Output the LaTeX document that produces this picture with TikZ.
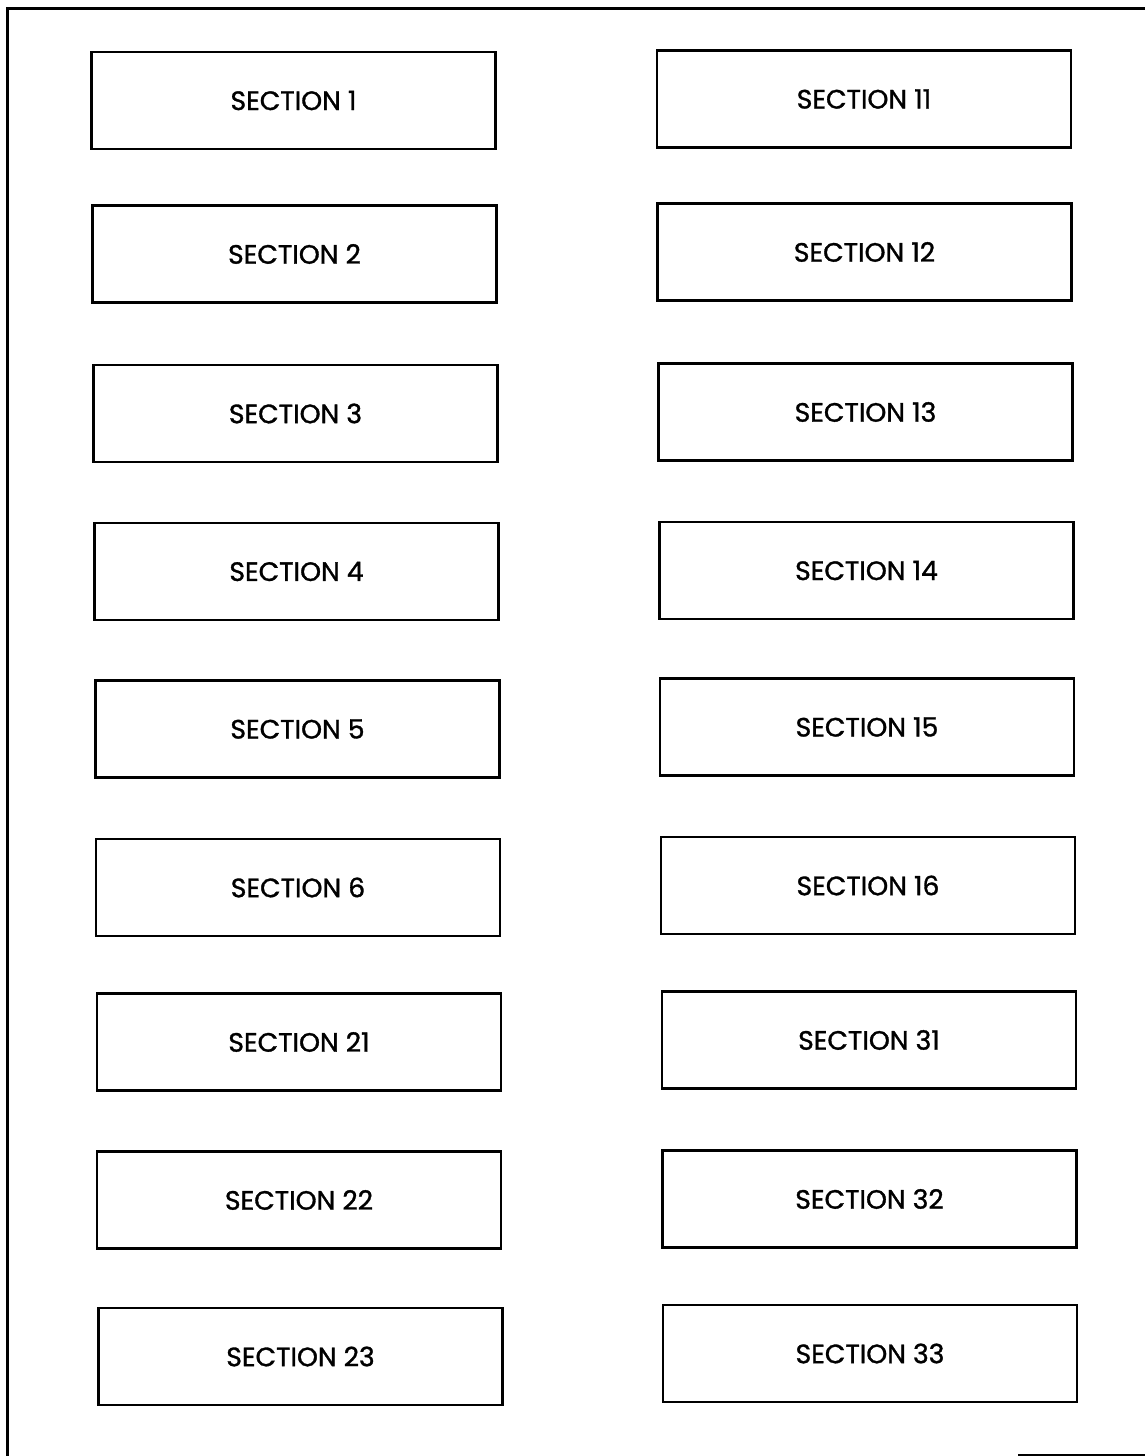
\documentclass[tikz,border=0pt]{standalone}
\usepackage{fontspec}
\setmainfont{Poppins}
\newfontfamily\sectionfont{Poppins}[RawFeature={embolden=1.2}]

\tikzset{
  sectionbox/.style={draw, line width=1.4pt, minimum width=202pt, minimum height=48.5pt,
    inner sep=0pt, font=\sectionfont\fontsize{13.3}{15}\selectfont},
}

\begin{document}
\begin{tikzpicture}[x=0.5pt,y=-0.5pt]
    \useasboundingbox (0,0) rectangle (1145,1456);
    % outer frame, cut at the right and bottom edge
    \draw[line width=1.4pt] (7.5,1460) -- (7.5,8.5) -- (1150,8.5);
    \draw[line width=1.4pt] (1018,1455) -- (1150,1455);
    % left column
    \foreach \name/\x/\y/\txt in {sA/293.5/100.5/1, sB/294.5/254/2, sC/295.5/413.5/3,
        sD/296.5/571.5/4, sE/297.5/729/5, sF/298/887.5/6,
        sU/299/1042/21, sV/299/1200/22, sW/300.5/1356.5/23}
      \node[sectionbox] (\name) at (\x,\y) {SECTION \txt};
    % right column
    \foreach \name/\x/\y/\txt in {sK/864/99/11, sL/864.5/252/12, sM/865.5/412/13,
        sN/866.5/570.5/14, sO/867/727/15, sP/868/885.5/16,
        sX/869/1040/31, sY/869.5/1199/32, sZ/870/1353.5/33}
      \node[sectionbox, minimum width=207pt] (\name) at (\x,\y) {SECTION \txt};
\end{tikzpicture}
\end{document}
